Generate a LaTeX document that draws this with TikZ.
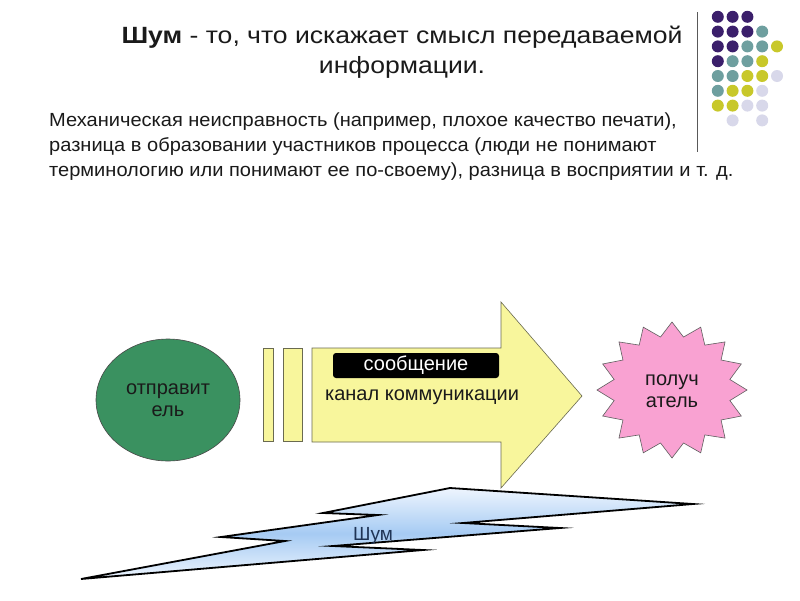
\documentclass[tikz,border=0pt]{standalone}
\usepackage{fontspec}
\setmainfont{Liberation Sans}
\newfontfamily\titlefont[FakeStretch=1.13]{Liberation Sans}
\newfontfamily\bodyfont[FakeStretch=1.055]{Liberation Sans}
\usetikzlibrary{shapes.geometric}
\definecolor{dotP}{HTML}{3B1F6B}
\definecolor{dotT}{HTML}{6E9F9F}
\definecolor{dotY}{HTML}{C8C82A}
\definecolor{dotL}{HTML}{D8D8EA}
\definecolor{arrowfill}{HTML}{F8F69C}
\definecolor{arrowline}{HTML}{6A6A50}
\definecolor{sendfill}{HTML}{3A9160}
\definecolor{recvfill}{HTML}{F9A2D2}
\definecolor{boltmid}{HTML}{A6CBF3}
\definecolor{boltedge}{HTML}{EEF5FE}
\definecolor{bolttext}{HTML}{1F3455}
\definecolor{darktext}{HTML}{1A1A1A}
\tikzset{
  dot/.style={circle, inner sep=0pt, minimum size=12pt},
  titleline/.style={anchor=base, inner sep=0pt, text=darktext, font=\titlefont\fontsize{23.5}{30}\selectfont},
  bodyline/.style={anchor=base west, inner sep=0pt, text=darktext, font=\bodyfont\fontsize{19}{25}\selectfont},
  shapetext/.style={align=center, text=darktext, inner sep=0pt, font=\fontsize{20}{22}\selectfont},
  yellowshape/.style={fill=arrowfill, draw=arrowline, line width=0.6pt},
}
\begin{document}
\begin{tikzpicture}[x=1pt,y=-1pt]
\useasboundingbox[fill=white] (0,0) rectangle (800,600);

% title
\node[titleline] (title1) at (402,43.5) {\textbf{Шум} - то, что искажает смысл передаваемой};
\node[titleline] (title2) at (402,73.5) {информации.};

% body
\node[bodyline] (body1) at (49,126.5) {Механическая неисправность (например, плохое качество печати),};
\node[bodyline] (body2) at (49,151.5) {разница в образовании участников процесса (люди не понимают};
\node[bodyline] (body3) at (49,176) {терминологию или понимают ее по-своему), разница в восприятии и т. д.};

% vertical rule
\coordinate (ruletop) at (697,12);
\coordinate (rulebot) at (697,152);
\draw[gray!70!black, line width=1pt] (ruletop) -- (rulebot);

% dots grid
\foreach \c/\r/\col in {
  1/1/dotP, 2/1/dotP, 3/1/dotP,
  1/2/dotP, 2/2/dotP, 3/2/dotP, 4/2/dotT,
  1/3/dotP, 2/3/dotP, 3/3/dotT, 4/3/dotT, 5/3/dotY,
  1/4/dotP, 2/4/dotT, 3/4/dotT, 4/4/dotY,
  1/5/dotT, 2/5/dotT, 3/5/dotY, 4/5/dotY, 5/5/dotL,
  1/6/dotT, 2/6/dotY, 3/6/dotY, 4/6/dotL,
  1/7/dotY, 2/7/dotY, 3/7/dotL, 4/7/dotL,
  2/8/dotL, 4/8/dotL}
  \node[dot, fill=\col] (d\c\r) at ({703+14.8*\c},{2+14.8*\r}) {};

% sender
\node[ellipse, fill=sendfill, draw=darktext!80, line width=0.6pt, minimum width=144pt, minimum height=122pt, shapetext] (sender) at (168,400) {отправит\\ель};

% bars
\path[yellowshape] (263,348) rectangle (273,441);
\path[yellowshape] (283,348) rectangle (302,441);
\node[inner sep=0pt, minimum width=10pt, minimum height=93pt] (bar1) at (268,394.5) {};
\node[inner sep=0pt, minimum width=19pt, minimum height=93pt] (bar2) at (292.5,394.5) {};

% channel arrow
\path[yellowshape] (312,348) -- (501,348) -- (501,302) -- (582,396) -- (501,488) -- (501,442) -- (312,442) -- cycle;
\node[rounded corners=3pt, fill=black, text=white, minimum width=166pt, minimum height=25pt, inner sep=0pt, font=\fontsize{20}{22}\selectfont] (msg) at (416,365.5) {сообщение};
\node[shapetext, anchor=base] (channel) at (422,400) {канал коммуникации};

% receiver star
\filldraw[fill=recvfill, draw=darktext!70, line width=0.6pt]
  plot[domain=0:31, samples=32] ({672+(75-16*mod(round(\x),2))*cos(90+\x*11.25)}, {390-(68-14*mod(round(\x),2))*sin(90+\x*11.25)}) -- cycle;
\node[shapetext] (receiver) at (672,391) {получ\\атель};

% noise bolt
\coordinate (b1) at (81,579);
\coordinate (b2) at (285,541);
\coordinate (b3) at (221,537);
\coordinate (b4) at (378,515);
\coordinate (b5) at (323,513);
\coordinate (b6) at (450,488);
\coordinate (b7) at (693,504);
\coordinate (b8) at (463,523);
\coordinate (b9) at (560,528);
\coordinate (b10) at (333,546);
\coordinate (b11) at (423,550);
\draw[draw=black, line width=1.8pt, line join=miter, miter limit=20, top color=boltedge, bottom color=boltedge, middle color=boltmid]
  (b1) -- (b2) -- (b3) -- (b4) -- (b5) -- (b6) -- (b7) -- (b8) -- (b9) -- (b10) -- (b11) -- cycle;
\node[anchor=base, inner sep=0pt, text=bolttext, font=\fontsize{19}{22}\selectfont] (noise) at (373,540) {Шум};
\end{tikzpicture}
\end{document}
